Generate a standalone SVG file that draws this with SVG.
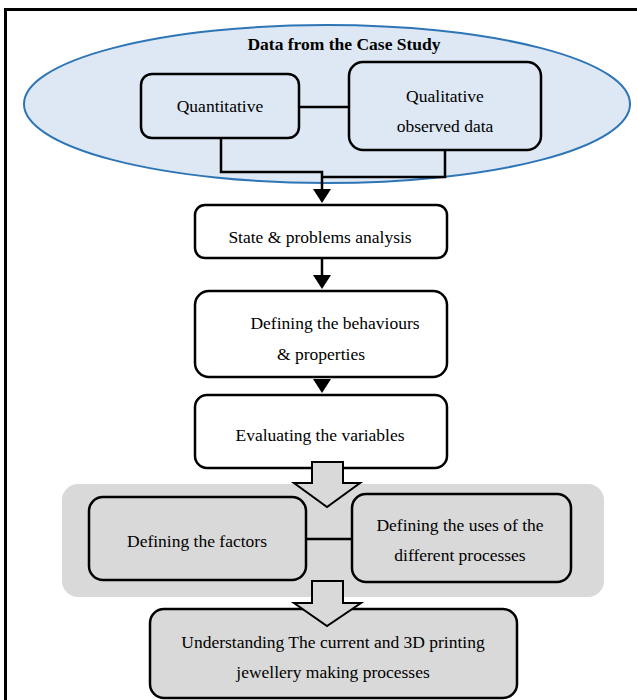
<svg xmlns="http://www.w3.org/2000/svg" width="637" height="700" viewBox="0 0 637 700">
  <style>
    .t { font-family: "Liberation Serif", "Times New Roman", serif; font-size: 17.5px; fill: #000; text-anchor: middle; }
    .b { font-weight: bold; }
    .box { stroke: #000; stroke-width: 2.5; }
    .white { fill: #fff; }
    .blue { fill: #dde8f4; }
    .grey { fill: #d9d9d9; }
    .wire { fill: none; stroke: #000; stroke-width: 2.5; }
    .block { fill: #d9d9d9; stroke: #000; stroke-width: 2; stroke-linejoin: miter; }
  </style>

  <rect x="0" y="0" width="637" height="700" fill="#fff"/>
  <!-- outer frame -->
  <rect x="5.5" y="9.5" width="660" height="720" fill="none" stroke="#000" stroke-width="3"/>

  <!-- data source container -->
  <g id="case-study">
    <ellipse cx="327" cy="104" rx="303" ry="79" fill="#dde8f4" stroke="#2e75b6" stroke-width="2"/>
    <text class="t b" x="344" y="50">Data from the Case Study</text>
  </g>

  <!-- grey band behind the factor boxes -->
  <g id="factors-band">
    <rect x="62" y="484" width="542" height="113" rx="16" fill="#d9d9d9"/>
  </g>

  <g id="connectors">
    <path class="wire" d="M299,107 H349"/>
    <path class="wire" d="M221,138 V172 H322 V190"/>
    <path class="wire" d="M445,150 V177 H322"/>
    <path d="M313,189 L331,189 L322,203 Z" fill="#000"/>
    <path class="wire" d="M322,258 V276"/>
    <path d="M313,275 L331,275 L322,289 Z" fill="#000"/>
    <path d="M313,379 L331,379 L322,393 Z" fill="#000"/>
    <path class="wire" d="M306,539 H352"/>
  </g>

  <g id="quantitative">
    <rect class="box blue" x="141" y="74" width="158" height="64" rx="11"/>
    <text class="t" x="220" y="112">Quantitative</text>
  </g>

  <g id="qualitative">
    <rect class="box blue" x="349" y="62" width="192" height="88" rx="14"/>
    <text class="t" x="445" y="102">Qualitative</text>
    <text class="t" x="445" y="132">observed data</text>
  </g>

  <g id="state-analysis">
    <rect class="box white" x="195" y="205" width="252" height="53" rx="10"/>
    <text class="t" x="320" y="243">State &amp; problems analysis</text>
  </g>

  <g id="behaviours">
    <rect class="box white" x="195" y="291" width="252" height="86" rx="14"/>
    <text class="t" x="335" y="329">Defining the behaviours</text>
    <text class="t" x="321" y="360">&amp; properties</text>
  </g>

  <g id="variables">
    <rect class="box white" x="195" y="395" width="252" height="73" rx="12"/>
    <text class="t" x="320" y="441">Evaluating the variables</text>
  </g>

  <g id="factors">
    <rect class="box grey" x="89" y="497" width="217" height="83" rx="14"/>
    <text class="t" x="197" y="547">Defining the factors</text>
  </g>

  <g id="uses">
    <rect class="box grey" x="352" y="494" width="219" height="88" rx="14"/>
    <text class="t" x="460" y="531">Defining the uses of the</text>
    <text class="t" x="460" y="561">different processes</text>
  </g>

  <g id="understanding">
    <rect class="box grey" x="150" y="609" width="367" height="89" rx="14"/>
    <text class="t" x="333" y="648">Understanding The current and 3D printing</text>
    <text class="t" x="333" y="678">jewellery making processes</text>
  </g>

  <!-- block arrows drawn over the boxes they join -->
  <g id="block-arrows">
    <path class="block" d="M312,462 H343 V483 H360 L327,507 L294,483 H312 Z"/>
    <path class="block" d="M312,581 H343 V603 H361 L327,626 L294,603 H312 Z"/>
  </g>
</svg>
